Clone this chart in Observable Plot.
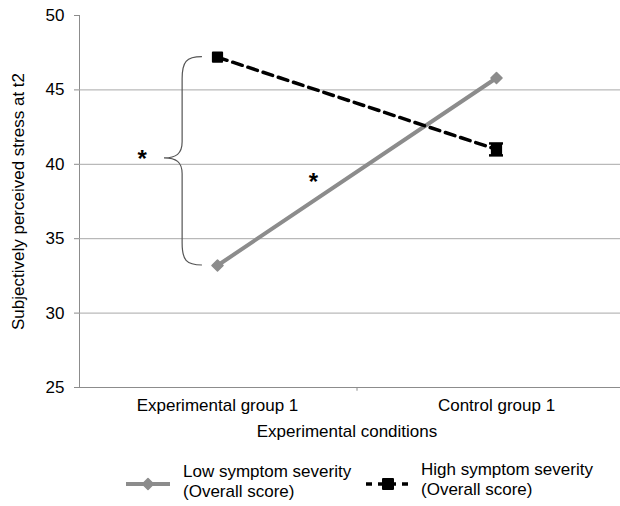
<!DOCTYPE html>
<html>
<head>
<meta charset="utf-8">
<script src="https://cdn.jsdelivr.net/npm/d3@7"></script>
<script src="https://cdn.jsdelivr.net/npm/@observablehq/plot@0.6"></script>
<style>
  html, body { margin: 0; padding: 0; background: #fff; }
  #wrap { position: relative; width: 620px; height: 506px; overflow: hidden; font-family: "Liberation Sans", Arial, sans-serif; }
  #chart svg text { fill: #000; }
  .leg { position: absolute; font-size: 17px; line-height: 20px; color: #000; white-space: nowrap; }
  .sw { position: absolute; }
</style>
</head>
<body>
<div id="wrap">
  <div id="chart"></div>
</div>
<script>
// ---- data ----
const conditions = ["Experimental group 1", "Control group 1"];
const lowSeverity = [33.2, 45.8];
const highSeverity = [47.2, 41.0];
const highError = [0, 0.4];
const yTicks = [25, 30, 35, 40, 45, 50];
const gridValues = [30, 35, 40, 45];
const seriesNames = ["Low symptom severity\n(Overall score)", "High symptom severity\n(Overall score)"];
const xTitle = "Experimental conditions";
const yTitle = "Subjectively perceived stress at t2";
// significance annotations (data units)
const asterisks = [{x: -0.27, y: 40.7}, {x: 0.344, y: 39.15}];
const braceTip = 40.4;

const low = conditions.map((c, i) => ({x: i, v: lowSeverity[i]}));
const high = conditions.map((c, i) => ({x: i, v: highSeverity[i], e: highError[i]}));
const highErr = high.filter(d => d.e > 0);

// brace spanning the two Experimental-group values, drawn through the scales
function braceMark(index, scales) {
  const x = scales.x, y = scales.y;
  const yt = y(highSeverity[0]);
  const yb = y(lowSeverity[0]);
  const ym = y(braceTip);
  const xv = x(-0.125), xe = x(-0.054), xt = x(-0.19);
  const p = d3.path();
  p.moveTo(xe, yt);
  p.bezierCurveTo(xv + 4, yt, xv, yt + 5, xv, yt + 22);
  p.lineTo(xv, ym - 16);
  p.bezierCurveTo(xv, ym - 4, xv - 6, ym, xt, ym);
  p.bezierCurveTo(xv - 6, ym, xv, ym + 4, xv, ym + 16);
  p.lineTo(xv, yb - 22);
  p.bezierCurveTo(xv, yb - 5, xv + 4, yb, xe, yb);
  return d3.create("svg:path")
    .attr("d", p.toString())
    .attr("fill", "none")
    .attr("stroke", "#555")
    .attr("stroke-width", 1.2)
    .node();
}

const chart = Plot.plot({
  width: 620,
  height: 445,
  marginLeft: 79,
  marginRight: 0,
  marginTop: 15,
  marginBottom: 58,
  style: {fontFamily: "Liberation Sans, Arial, sans-serif", fontSize: "17px", color: "#8c8c8c", background: "white", overflow: "visible"},
  x: {type: "linear", domain: [0, 1], range: [217, 496], axis: null},
  y: {domain: [25, 50], ticks: yTicks, tickSize: 5, tickPadding: 10, line: true, label: null, tickFormat: d => String(d)},
  marks: [
    Plot.ruleY(gridValues, {stroke: "#a8a8a8", strokeWidth: 1}),
    Plot.ruleY([25], {stroke: "#8c8c8c", strokeWidth: 1.2}),
    Plot.ruleX([0.5], {y1: 25, y2: 24.75, stroke: "#8c8c8c"}),
    braceMark,
    Plot.line(low, {x: "x", y: "v", stroke: "#8c8c8c", strokeWidth: 4}),
    Plot.line(high, {x: "x", y: "v", stroke: "#000", strokeWidth: 3.5, strokeDasharray: "10,6"}),
    Plot.ruleX(highErr, {x: "x", y1: d => d.v - d.e, y2: d => d.v + d.e, stroke: "#000", strokeWidth: 2.5}),
    Plot.ruleY(highErr, {y: d => d.v - d.e, x1: d => d.x - 0.025, x2: d => d.x + 0.025, stroke: "#000", strokeWidth: 2.5}),
    Plot.ruleY(highErr, {y: d => d.v + d.e, x1: d => d.x - 0.025, x2: d => d.x + 0.025, stroke: "#000", strokeWidth: 2.5}),
    Plot.dot(low, {x: "x", y: "v", symbol: "diamond2", r: 5, fill: "#8c8c8c", stroke: "#8c8c8c", strokeWidth: 1.5, strokeLinejoin: "round"}),
    Plot.dot(high, {x: "x", y: "v", symbol: "square", r: 5.2, fill: "#000", stroke: "#000", strokeWidth: 2, strokeLinejoin: "round"}),
    Plot.text(asterisks, {x: "x", y: "y", text: () => "*", fontSize: 24, fontWeight: "bold", dy: 5}),
    Plot.text(conditions, {x: (d, i) => i, frameAnchor: "bottom", dy: 23, text: d => d}),
    Plot.text([xTitle], {frameAnchor: "bottom", dx: -3, dy: 49}),
    Plot.text([yTitle], {frameAnchor: "left", textAnchor: "middle", rotate: -90, dx: -61})
  ]
});
document.getElementById("chart").appendChild(chart);

// legend
const wrap = document.getElementById("wrap");
function swatch(left, top, stroke, dash, symbol, fill) {
  const s = d3.create("svg").attr("class", "sw").attr("width", 50).attr("height", 16)
    .style("left", left + "px").style("top", top + "px");
  s.append("line").attr("x1", 2).attr("x2", 46).attr("y1", 8).attr("y2", 8)
    .attr("stroke", stroke).attr("stroke-width", dash ? 3.5 : 4).attr("stroke-dasharray", dash || null);
  s.append("path").attr("transform", "translate(24,8)")
    .attr("d", d3.symbol(symbol, symbol === d3.symbolSquare ? 100 : 77)())
    .attr("fill", fill).attr("stroke", fill).attr("stroke-width", symbol === d3.symbolSquare ? 2 : 1.5).attr("stroke-linejoin", "round");
  wrap.appendChild(s.node());
}
swatch(124, 476, "#8c8c8c", null, d3.symbolDiamond2, "#8c8c8c");
swatch(364, 476, "#000", "6,6", d3.symbolSquare, "#000");
seriesNames.forEach((t, i) => {
  const d = document.createElement("div");
  d.className = "leg";
  d.style.left = (i === 0 ? 183 : 421) + "px";
  d.style.top = (i === 0 ? 462 : 460) + "px";
  d.innerHTML = t.split("\n").join("<br>");
  wrap.appendChild(d);
});
</script>
</body>
</html>
